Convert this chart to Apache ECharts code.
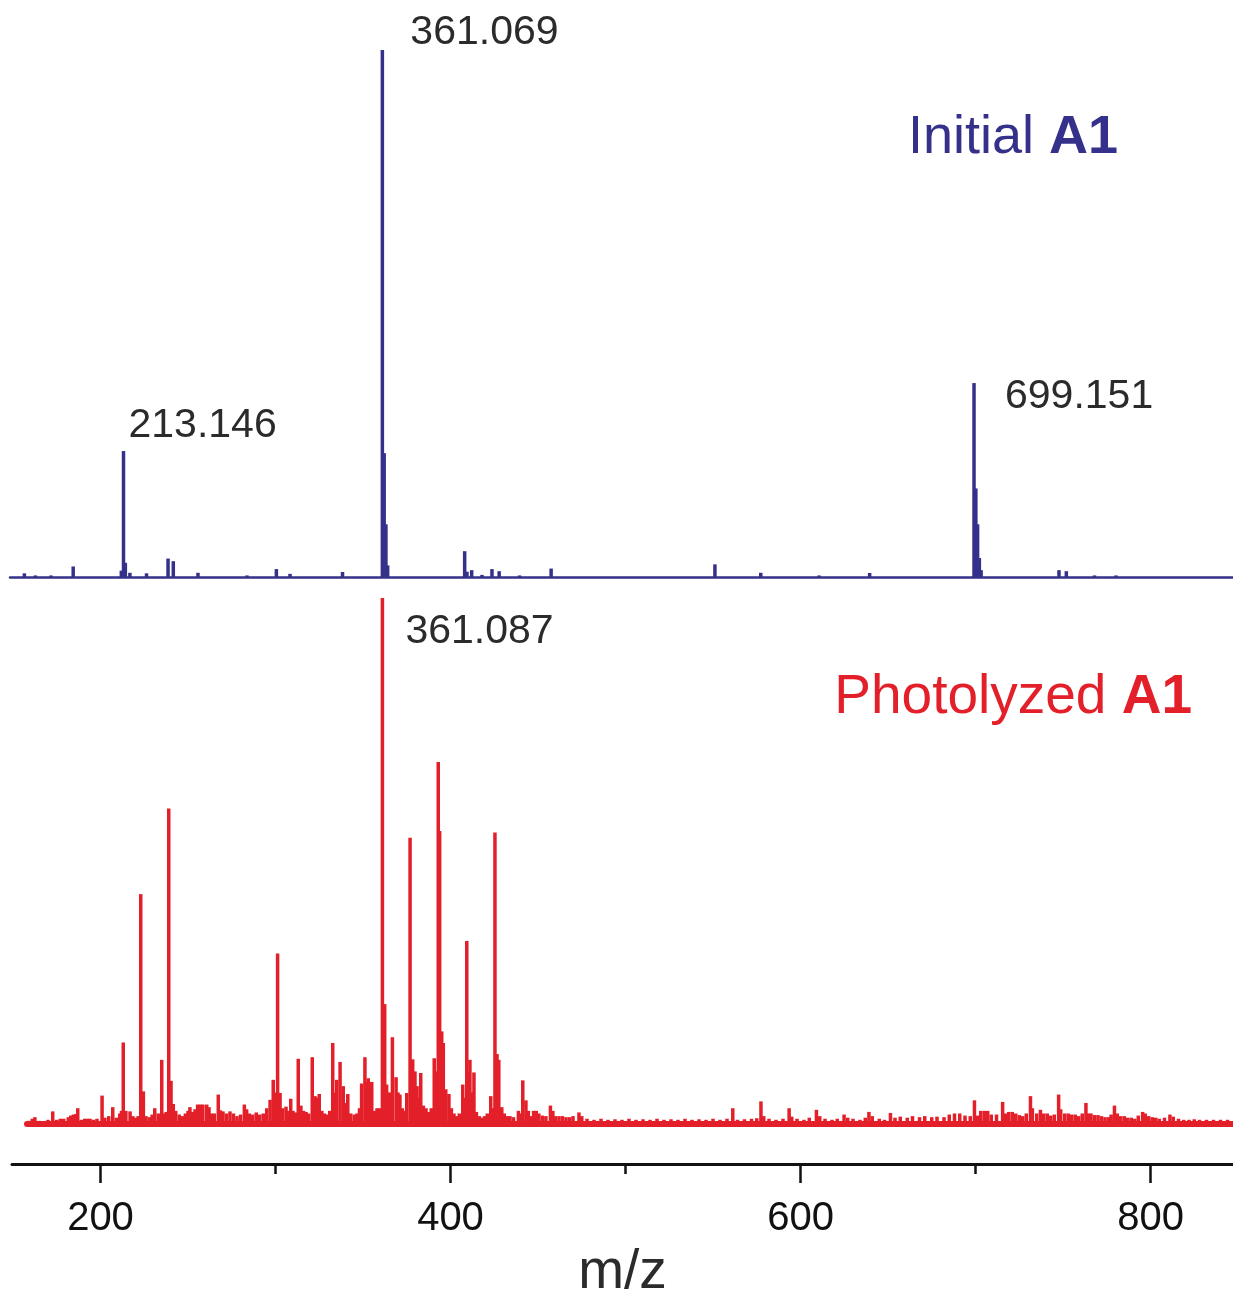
<!DOCTYPE html>
<html>
<head>
<meta charset="utf-8">
<script src="https://cdn.jsdelivr.net/npm/echarts@6/dist/echarts.min.js"></script>
<style>
  html, body { margin: 0; padding: 0; background: #fff; }
  #chart { width: 1233px; height: 1293px; }
</style>
</head>
<body>
<div id="chart"></div>
<script>
// relative intensity (%), [m/z, intensity]
const initialPeaks = [
  [156.5, 0.7], [162.8, 0.3], [171.7, 0.3], [184.4, 2.0], [211.9, 1.2], [213.146, 23.9], [214.2, 2.7],
  [216.8, 0.8], [226.3, 0.7], [238.6, 3.5], [241.6, 3.0], [255.7, 0.8], [283.7, 0.3], [300.5, 1.5],
  [308.3, 0.6], [338.3, 0.95], [361.069, 100], [362.1, 23.5], [363.1, 10], [364.1, 2.2], [408.1, 4.9],
  [409.4, 1.0], [412.1, 1.3], [418, 0.4], [423.7, 1.5], [427.8, 1.1], [439.5, 0.3], [457.5, 1.6],
  [551.1, 2.4], [577.3, 0.8], [610.6, 0.3], [639.5, 0.76], [699.151, 36.8], [700.2, 16.8], [701.2, 10],
  [702.2, 3.6], [703.2, 1.3], [747.7, 1.3], [751.9, 1.1], [768, 0.3], [780.3, 0.3]
];

const photoPeaks = [
  [159, 0.6], [161, 1.0], [162.5, 1.3], [165, 0.6], [168, 0.5], [170, 0.8], [172.7, 2.4], [175, 0.8],
  [177, 1.0], [179, 1.0], [181.6, 1.3], [183, 1.6], [184.5, 1.8], [186, 1.9], [187, 3.0], [189, 0.8],
  [191, 1.0], [192.5, 1.0], [194, 1.0], [196, 0.8], [198, 1.0], [200.9, 5.4], [202.5, 1.2], [204.7, 1.5],
  [207, 3.2], [209, 1.2], [211, 2.0], [212, 2.5], [213.0, 15.5], [214.5, 2.5], [216.9, 2.4], [218.5, 1.5],
  [220, 1.2], [221.5, 1.5], [223.0, 43.7], [224.5, 6.2], [226, 1.5], [228, 1.3], [229.5, 1.8], [231, 3.0],
  [233, 2.0], [235.0, 12.2], [236.5, 2.0], [237.5, 2.3], [239.0, 60], [240.3, 8.2], [241.6, 3.8], [243, 2.5],
  [245, 1.8], [247, 1.5], [248.5, 2.0], [250, 2.5], [251.1, 3.2], [252.5, 2.3], [254, 2.8], [255.5, 3.7],
  [257, 3.7], [258.5, 3.7], [260.7, 3.7], [262, 3.2], [263.5, 2.0], [265, 2.0], [267.3, 5.6], [268.5, 2.6],
  [270, 2.4], [272, 2.0], [274, 2.4], [276, 2.0], [278, 1.5], [280, 1.8], [282.2, 3.7], [283.5, 2.8],
  [285, 2.0], [287, 1.8], [289, 2.2], [291, 1.8], [293, 2.0], [295, 3.0], [296.9, 4.6], [298.7, 8.4],
  [300, 6.0], [301.2, 32.4], [302.6, 5.9], [304, 3.0], [306, 3.3], [307.5, 2.5], [308.7, 4.8], [310, 2.5],
  [311.5, 2.2], [313.0, 12.4], [314.5, 3.5], [316, 2.5], [317.5, 2.3], [319, 2.0], [321.0, 12.7], [322.6, 5.3],
  [324, 5.0], [325.0, 5.7], [326.5, 2.5], [328, 2.0], [329.5, 1.8], [331, 2.5], [332.7, 15.4], [334, 6.0],
  [335, 8.4], [336.9, 11.8], [338.7, 7.2], [340, 4.0], [341.3, 5.7], [343, 2.0], [345, 1.8], [346.5, 2.0],
  [348, 3.0], [349.2, 7.7], [351.1, 12.7], [352, 8.0], [353.0, 8.7], [355.0, 8.0], [356.5, 2.5], [358, 3.0],
  [359.5, 3.0], [361.087, 100], [362.4, 22.8], [363.5, 7.5], [365, 6.0], [366.8, 16.5], [368.9, 8.9],
  [370, 6.0], [371.1, 5.6], [372.5, 3.0], [374, 2.5], [375.0, 5.9], [376.9, 54.4], [378.4, 12.3],
  [379.7, 10], [380.9, 7.2], [382, 5.0], [383, 9.7], [384.5, 3.5], [386, 3.0], [387.5, 2.3], [389, 3.0],
  [390.7, 12.5], [392, 10], [393.0, 68.8], [393.8, 55.7], [395, 17.6], [395.9, 15.4], [397.3, 6.6],
  [399.1, 5.7], [400.5, 3.0], [402, 2.0], [403.5, 1.5], [405, 2.0], [407, 7.5], [408, 5.0], [409.3, 34.8],
  [410.2, 10], [411.1, 12.2], [412.3, 6.0], [413.4, 9.8], [414.8, 2.3], [416.5, 1.5], [418, 1.2],
  [419.5, 1.5], [421, 2.0], [423, 5.3], [424, 3.0], [425.4, 55.4], [426.6, 13.3], [427.6, 12.2],
  [429.3, 3.2], [430.7, 2.0], [432.5, 1.5], [434, 1.5], [436, 1.3], [438.8, 2.5], [440, 2.0], [441.3, 8.3],
  [443.1, 4.5], [444.5, 2.5], [446, 1.5], [447.5, 2.5], [449, 2.5], [450.5, 2.0], [452.5, 1.6], [454.5, 1.5],
  [457.1, 3.5], [458.5, 2.5], [460, 1.5], [462, 1.5], [464, 1.5], [466, 1.3], [468, 1.3], [470, 1.5],
  [473.4, 2.2], [475, 1.5], [478, 1.0], [482, 0.8], [486, 1.0], [490, 0.8], [494, 0.9], [498, 0.8],
  [502, 1.0], [506, 0.8], [510, 0.9], [514, 0.8], [518, 1.0], [522, 0.8], [526, 0.9], [530, 0.8],
  [534, 1.0], [538, 0.8], [542, 0.9], [546, 0.8], [550, 1.0], [554, 0.8], [558, 1.0], [561.3, 3.0],
  [564, 0.8], [568, 0.9], [572, 1.0], [575, 1.1], [577.4, 4.3], [579, 1.5], [582, 1.0], [586, 0.8],
  [590, 1.0], [593.5, 3.0], [595, 1.4], [598, 1.0], [602, 0.8], [605, 1.2], [609.1, 2.7], [611, 1.5],
  [614, 1.0], [618, 0.8], [621, 1.0], [624.9, 1.8], [627, 1.2], [630, 1.0], [634, 0.8], [637, 1.2],
  [639.1, 2.3], [641, 1.5], [645, 1.0], [648, 0.8], [651.4, 2.1], [654, 1.2], [657, 1.4], [661, 1.2],
  [664, 1.5], [668, 1.3], [671, 1.5], [675, 1.3], [678, 1.4], [682, 1.3], [685, 1.8], [688, 2.0],
  [691, 2.0], [694, 1.6], [697, 1.5], [699.4, 4.5], [701, 1.6], [703, 2.5], [705, 2.5], [707, 2.5],
  [709, 1.8], [712, 1.8], [715.5, 4.2], [717, 2.0], [719, 2.3], [721, 2.3], [723, 2.0], [725, 1.7],
  [727, 1.5], [729, 2.0], [731.4, 5.3], [732.5, 3.0], [735, 2.0], [737.1, 2.7], [739, 2.0], [741, 2.0],
  [743, 1.6], [745, 1.8], [747.5, 5.6], [748.7, 2.8], [751, 2.0], [753, 2.0], [755, 1.8], [757, 1.8],
  [759, 1.5], [761, 2.0], [763.1, 4.0], [764.5, 2.0], [766, 2.0], [768, 1.7], [770, 1.7], [772, 1.5],
  [774, 1.3], [776, 1.3], [777.5, 1.8], [779.4, 3.5], [781, 2.0], [783, 1.5], [785, 1.5], [787, 1.2],
  [789, 1.2], [791, 1.0], [793, 1.6], [795.5, 2.3], [797, 2.0], [799, 1.5], [801, 1.3], [803, 1.2],
  [805, 1.0], [808, 1.2], [811.1, 1.8], [813, 1.4], [816, 1.0], [819, 0.8], [822, 0.8], [825, 0.9],
  [828, 0.8], [832, 0.8], [836, 0.8], [840, 0.8], [844, 0.8]
];

const tickValues = [200, 400, 600, 800];
const minorTickValues = [300, 500, 700];
// [text, m/z, intensity] of the labelled peaks
const initialLabels = [['361.069', 361.069, 100], ['213.146', 213.146, 23.9], ['699.151', 699.151, 36.8]];
const photoLabels = [['361.087', 361.087, 100]];

const BLUE = '#35318b';
const RED = '#e3202a';
const FONT = 'Liberation Sans, Arial, sans-serif';

const chart = echarts.init(document.getElementById('chart'));

const hiddenY = (i) => ({gridIndex: i, type: 'value', min: 0, max: 100, show: false});

const option = {
  animation: false,
  backgroundColor: '#fff',
  grid: [
    {left: 10, right: 0, top: 50, height: 527, outerBoundsMode: 'none'},   // initial
    {left: 27, right: 0, top: 598, height: 526, outerBoundsMode: 'none'},  // photolyzed
    {left: 12, right: 0, top: 1100, height: 64, outerBoundsMode: 'none'}   // m/z axis
  ],
  xAxis: [
    {
      gridIndex: 0, type: 'value', min: 148.29, max: 847.14,
      axisLine: {lineStyle: {color: BLUE, width: 2.5}},
      axisTick: {show: false}, axisLabel: {show: false}, splitLine: {show: false}
    },
    {
      gridIndex: 1, type: 'value', min: 158.0, max: 847.14,
      axisLine: {lineStyle: {color: RED, width: 6}},
      axisTick: {show: false}, axisLabel: {show: false}, splitLine: {show: false}
    },
    {
      gridIndex: 2, type: 'value', min: 149.43, max: 847.14, position: 'bottom',
      axisLine: {lineStyle: {color: '#111', width: 3}},
      axisTick: {customValues: tickValues, length: 19, lineStyle: {color: '#111', width: 2.5}},
      axisLabel: {customValues: tickValues, margin: 35, fontSize: 40, color: '#111', fontFamily: FONT},
      splitLine: {show: false},
      name: 'm/z', nameLocation: 'middle', nameGap: 81,
      nameTextStyle: {fontSize: 55, color: '#2b2b2b', fontFamily: FONT}
    },
    {
      gridIndex: 2, type: 'value', min: 149.43, max: 847.14, position: 'bottom',
      axisLine: {show: false},
      axisTick: {customValues: minorTickValues, length: 10, lineStyle: {color: '#111', width: 2.5}},
      axisLabel: {show: false}, splitLine: {show: false}
    }
  ],
  yAxis: [hiddenY(0), hiddenY(1), hiddenY(2)],
  series: [
    {
      type: 'bar', xAxisIndex: 0, yAxisIndex: 0, barWidth: 3.5,
      itemStyle: {color: BLUE}, data: initialPeaks
    },
    {
      type: 'bar', xAxisIndex: 1, yAxisIndex: 1, barWidth: 3.5,
      itemStyle: {color: RED}, data: photoPeaks
    }
  ]
};

chart.setOption(option);

const peakText = (gridIndex, lab, dx, dy) => {
  const p = chart.convertToPixel({gridIndex: gridIndex}, [lab[1], lab[2]]);
  return {
    type: 'text', x: p[0] + dx, y: p[1] + dy,
    style: {text: lab[0], fontSize: 41, fontFamily: FONT, fill: '#2b2b2b', verticalAlign: 'middle'}
  };
};

chart.setOption({
  graphic: [
    peakText(0, initialLabels[0], 28, -17),
    peakText(0, initialLabels[1], 5, -25),
    peakText(0, initialLabels[2], 31, 14),
    peakText(1, photoLabels[0], 23, 34),
    {
      type: 'text', x: 1118, y: 138,
      style: {
        text: '{n|Initial }{b|A1}', align: 'right', verticalAlign: 'middle',
        rich: {
          n: {fontSize: 54, fontFamily: FONT, fill: BLUE},
          b: {fontSize: 54, fontFamily: FONT, fontWeight: 'bold', fill: BLUE}
        }
      }
    },
    {
      type: 'text', x: 1192, y: 698,
      style: {
        text: '{n|Photolyzed }{b|A1}', align: 'right', verticalAlign: 'middle',
        rich: {
          n: {fontSize: 55, fontFamily: FONT, fill: RED},
          b: {fontSize: 55, fontFamily: FONT, fontWeight: 'bold', fill: RED}
        }
      }
    }
  ]
});
</script>
</body>
</html>
